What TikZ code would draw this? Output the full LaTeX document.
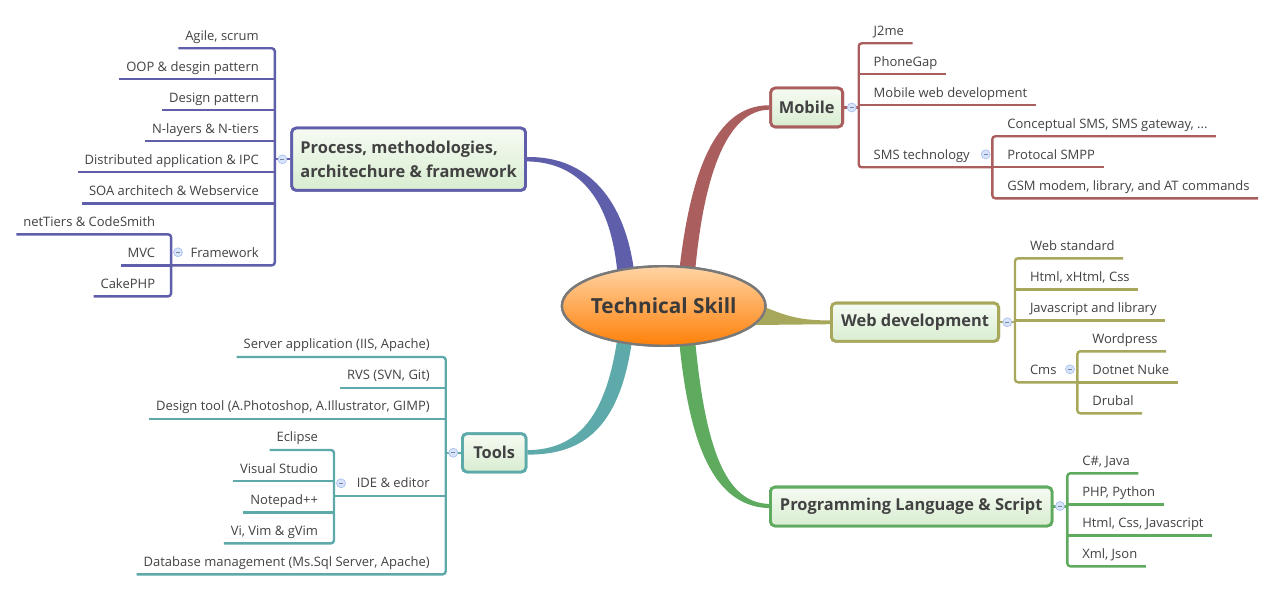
\documentclass[tikz,border=0pt]{standalone}
\usepackage{fontspec}
\setmainfont{Open Sans}
\usetikzlibrary{shapes.geometric,calc}
\definecolor{cblue}{RGB}{94,94,170}
\definecolor{cred}{RGB}{170,94,94}
\definecolor{colive}{RGB}{168,168,92}
\definecolor{cteal}{RGB}{94,170,170}
\definecolor{cgreen}{RGB}{94,170,94}
\definecolor{txt}{RGB}{66,66,66}
\definecolor{boxtop}{RGB}{246,251,243}
\definecolor{boxbot}{RGB}{216,237,208}
\definecolor{cfill}{RGB}{214,227,250}
\definecolor{cline}{RGB}{165,188,235}
\definecolor{orgtop}{RGB}{255,212,165}
\definecolor{orgbot}{RGB}{255,128,8}
\begin{document}
\begin{tikzpicture}[x=1pt,y=-1pt,
  subtext/.style={font=\fontsize{13}{15}\selectfont, text=txt, inner sep=0pt, text height=10pt, text depth=8pt},
  rchild/.style={subtext, anchor=south west, execute at begin node={\hspace*{14.8pt}}, execute at end node={\hspace*{8.3pt}}},
  lchild/.style={subtext, anchor=south east, execute at begin node={\hspace*{6.8pt}}, execute at end node={\hspace*{15.8pt}}},
  topic/.style={rectangle, rounded corners=4.5pt, line width=2.8pt, top color=boxtop, bottom color=boxbot, text=txt, font=\fontsize{16.4}{24}\selectfont\bfseries, inner sep=0pt},
  collapse/.style={circle, minimum size=9pt, inner sep=0pt, fill=cfill, draw=cline, line width=0.6pt,
    path picture={\draw[cline!70!black, line width=0.7pt] ([xshift=-2pt]path picture bounding box.center) -- ([xshift=2pt]path picture bounding box.center);}},
  lnk/.style={line width=2.4pt},
  bracket/.style={line width=2.4pt, rounded corners=3pt},
  rootstyle/.style={ellipse, line width=2.4pt, draw=gray!95!black, top color=orgtop, bottom color=orgbot, minimum width=203.5, minimum height=79.5, inner xsep=-1.5pt, inner ysep=0pt, text height=16pt, text depth=0.8pt, text=txt!90!black, font=\fontsize{20.8}{24}\selectfont\bfseries},
]
\useasboundingbox (0,0) rectangle (1272,591);
\fill[white] (0,0) rectangle (1272,591);

% ---------- topic boxes (positions) ----------
\path
  node[topic, draw=cblue, minimum width=233.8, minimum height=62.2, align=left] (process) at (408.6,159.2) {Process, methodologies,\\architechure \& framework}
  node[topic, draw=cred, minimum width=71.9, minimum height=38.8] (mobile) at (806.65,107.5) {Mobile}
  node[topic, draw=colive, minimum width=167.2, minimum height=38.2] (web) at (915,322.2) {Web development}
  node[topic, draw=cgreen, minimum width=281.5, minimum height=38.8] (prog) at (911.2,506.5) {Programming Language \& Script}
  node[topic, draw=cteal, minimum width=63.5, minimum height=38.2] (tools) at (494.2,452.8) {Tools}
  node[rootstyle] (root) at (663.7,306) {Technical Skill};

% ---------- tapered main branches ----------
\fill[cblue] ($(process.east)+(0,-2.2)$) .. controls (588,156) and (626,200) .. ($(root.center)+(-29,-30)$)
   -- ($(root.center)+(-46,-30)$) .. controls (612,206) and (584,162) .. ($(process.east)+(0,2.2)$) -- cycle;
\fill[cred] ($(mobile.west)+(0,-2.2)$) .. controls (716,105) and (690,170) .. ($(root.center)+(15,-30)$)
   -- ($(root.center)+(31,-30)$) .. controls (703,178) and (726,110) .. ($(mobile.west)+(0,2.2)$) -- cycle;
\fill[colive] ($(root.center)+(92,-3)$) .. controls (786,317) and (802,320.5) .. ($(web.west)+(0,-1.8)$)
   -- ($(web.west)+(0,2)$) -- ($(root.center)+(92,19)$) -- cycle;
\fill[cteal] ($(root.center)+(-46,30)$) .. controls (606,420) and (576,449.5) .. ($(tools.east)+(0,-2.6)$)
   -- ($(tools.east)+(0,1.8)$) .. controls (586,455) and (621,425) .. ($(root.center)+(-31,30)$) -- cycle;
\fill[cgreen] ($(root.center)+(15,30)$) .. controls (689,450) and (716,506.5) .. ($(prog.west)+(0,1.6)$)
   -- ($(prog.west)+(0,-2.6)$) .. controls (726,503) and (705,450) .. ($(root.center)+(31,30)$) -- cycle;
% redraw nodes on top of the branch ends
\node[topic, draw=cblue, minimum width=233.8, minimum height=62.2, align=left] at (process.center) {Process, methodologies,\\architechure \& framework};
\node[topic, draw=cred, minimum width=71.9, minimum height=38.8] at (mobile.center) {Mobile};
\node[topic, draw=colive, minimum width=167.2, minimum height=38.2] at (web.center) {Web development};
\node[topic, draw=cgreen, minimum width=281.5, minimum height=38.8] at (prog.center) {Programming Language \& Script};
\node[topic, draw=cteal, minimum width=63.5, minimum height=38.2] at (tools.center) {Tools};
\node[rootstyle] at (root.center) {Technical Skill};

% ---------- Mobile ----------
\node[rchild] (m1) at (858.7,43.3) {J2me};
\node[rchild] (m2) at (858.7,74.3) {PhoneGap};
\node[rchild] (m3) at (858.7,105.3) {Mobile web development};
\node[rchild] (m4) at (858.7,167.3) {SMS technology};
\node[rchild] (s1) at (992.3,136.3) {Conceptual SMS, SMS gateway, ...};
\node[rchild] (s2) at (992.3,167.3) {Protocal SMPP};
\node[rchild] (s3) at (992.3,198.3) {GSM modem, library, and AT commands};
\begin{scope}[cred]
\draw[lnk] (mobile.east) -- (mobile.east -| m1.south west);
\draw[bracket] (m1.south east) -- (m1.south west) -- (m4.south west) -- (s2.south west);
\draw[lnk] (m2.south west) -- (m2.south east);
\draw[lnk] (m3.south west) -- (m3.south east);
\draw[bracket] (s1.south east) -- (s1.south west) -- (s3.south west) -- (s3.south east);
\draw[lnk] (s2.south west) -- (s2.south east);
\end{scope}
\node[collapse] (cmob) at (851.7,107.5) {};
\node[collapse] (csms) at (985.7,154.3) {};

% ---------- Web development ----------
\node[rchild] (w1) at (1015,258.3) {Web standard};
\node[rchild] (w2) at (1015,289.3) {Html, xHtml, Css};
\node[rchild] (w3) at (1015,320.3) {Javascript and library};
\node[rchild] (w4) at (1015,382.3) {Cms};
\node[rchild] (c1) at (1077.3,351.3) {Wordpress};
\node[rchild] (c2) at (1077.3,382.3) {Dotnet Nuke};
\node[rchild] (c3) at (1077.3,413.3) {Drubal};
\begin{scope}[colive]
\draw[lnk] (web.east) -- (web.east -| w1.south west);
\draw[bracket] (w1.south east) -- (w1.south west) -- (w4.south west) -- (c2.south west);
\draw[lnk] (w2.south west) -- (w2.south east);
\draw[lnk] (w3.south west) -- (w3.south east);
\draw[bracket] (c1.south east) -- (c1.south west) -- (c3.south west) -- (c3.south east);
\draw[lnk] (c2.south west) -- (c2.south east);
\end{scope}
\node[collapse] (cweb) at (1007.3,322.3) {};
\node[collapse] (ccms) at (1070,369.3) {};

% ---------- Programming ----------
\node[rchild] (g1) at (1067.3,473.3) {C\#, Java};
\node[rchild] (g2) at (1067.3,504.3) {PHP, Python};
\node[rchild] (g3) at (1067.3,535.3) {Html, Css, Javascript};
\node[rchild] (g4) at (1067.3,566.3) {Xml, Json};
\begin{scope}[cgreen]
\draw[lnk] (prog.east) -- (prog.east -| g1.south west);
\draw[bracket] (g1.south east) -- (g1.south west) -- (g4.south west) -- (g4.south east);
\draw[lnk] (g2.south west) -- (g2.south east);
\draw[lnk] (g3.south west) -- (g3.south east);
\end{scope}
\node[collapse] (cprog) at (1060,506) {};

% ---------- Process ----------
\node[lchild] (p1) at (274.8,48.3) {Agile, scrum};
\node[lchild] (p2) at (274.8,79.3) {OOP \& desgin pattern};
\node[lchild] (p3) at (274.8,110.3) {Design pattern};
\node[lchild] (p4) at (274.8,141.3) {N-layers \& N-tiers};
\node[lchild] (p5) at (274.8,172.3) {Distributed application \& IPC};
\node[lchild] (p6) at (274.8,203.3) {SOA architech \& Webservice};
\node[lchild] (p7) at (274.8,265.3) {Framework};
\node[lchild] (f1) at (171.1,234.3) {netTiers \& CodeSmith};
\node[lchild] (f2) at (171.1,265.3) {MVC};
\node[lchild] (f3) at (171.1,296.3) {CakePHP};
\begin{scope}[cblue]
\draw[lnk] (process.west) -- (process.west -| p1.south east);
\draw[bracket] (p1.south west) -- (p1.south east) -- (p7.south east) -- (f2.south east);
\foreach \n in {p2,p3,p4,p5,p6} \draw[lnk] (\n.south east) -- (\n.south west);
\draw[bracket] (f1.south west) -- (f1.south east) -- (f3.south east) -- (f3.south west);
\draw[lnk] (f2.south east) -- (f2.south west);
\end{scope}
\node[collapse] (cproc) at (282.4,159.3) {};
\node[collapse] (cfw) at (178,252.3) {};

% ---------- Tools ----------
\node[lchild] (t1) at (445.7,357) {Server application (IIS, Apache)};
\node[lchild] (t2) at (445.7,388) {RVS (SVN, Git)};
\node[lchild] (t3) at (445.7,419) {Design tool (A.Photoshop, A.Illustrator, GIMP)};
\node[lchild] (t4) at (445.7,496) {IDE \& editor};
\node[lchild] (t5) at (445.7,574.3) {Database management (Ms.Sql Server, Apache)};
\node[lchild] (e1) at (334,450) {Eclipse};
\node[lchild] (e2) at (334,481.2) {Visual Studio};
\node[lchild] (e3) at (334,512.3) {Notepad++};
\node[lchild] (e4) at (334,543.3) {Vi, Vim \& gVim};
\begin{scope}[cteal]
\draw[lnk] (tools.west) -- (tools.west -| t1.south east);
\draw[bracket] (t1.south west) -- (t1.south east) -- (t5.south east) -- (t5.south west);
\draw[lnk] (t2.south east) -- (t2.south west);
\draw[lnk] (t3.south east) -- (t3.south west);
\draw[lnk] (t4.south east) -- (t4.south east -| e1.south east);
\draw[bracket] (e1.south west) -- (e1.south east) -- (e4.south east) -- (e4.south west);
\draw[lnk] (e2.south east) -- (e2.south west);
\draw[lnk] (e3.south east) -- (e3.south west);
\end{scope}
\node[collapse] (ctools) at (453.3,452.7) {};
\node[collapse] (cide) at (341,483.3) {};
\end{tikzpicture}
\end{document}
